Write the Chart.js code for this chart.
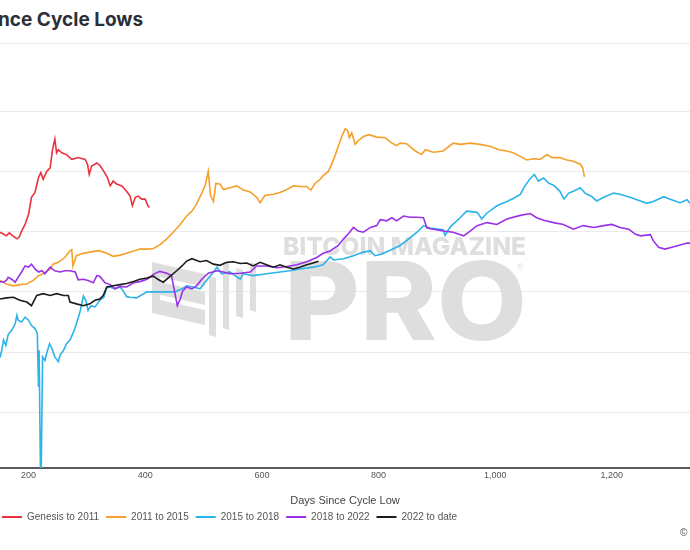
<!DOCTYPE html>
<html><head><meta charset="utf-8">
<script src="https://cdn.jsdelivr.net/npm/chart.js@4.4.1/dist/chart.umd.min.js"></script>
<style>
html,body{margin:0;padding:0;background:#fff;overflow:hidden;width:690px;height:550px;position:relative}
#title{position:absolute;left:-2px;top:9px;font:700 19px Inter,"Noto Sans",sans-serif;line-height:22px;color:#2b2f38;white-space:nowrap}
#sep{position:absolute;left:0;top:43px;width:690px;height:1px;background:#ececec}
#cv{position:absolute;left:-5px;top:0;width:695px;height:550px}
#copy{position:absolute;left:680px;top:527px;font:10px "Liberation Sans",Arial,sans-serif;color:#555}
</style></head><body>
<div id="title">nce Cycle Lows</div>
<div id="sep"></div>
<canvas id="cv" width="695" height="550"></canvas>
<div id="copy">©</div>
<script>
// y values: log10 return units, one gridline per unit
const seriesNames = ['Genesis to 2011', '2011 to 2015', '2015 to 2018', '2018 to 2022', '2022 to date'];
const seriesColors = ['#e8323c', '#f5a02b', '#2cb3e8', '#9a31e8', '#1c1c1c'];
const xTickValues = [200, 400, 600, 800, 1000, 1200];
const yGridValues = [-2, -1, 0, 1, 2, 3];

const genesisDays = [151,157,162,167,173,180,184,188,194,200,205,211,217,221,225,231,237,241,245,248,251,257,265,274,285,297,301,304,308,317,323,329,335,340,345,351,360,368,374,378,383,388,394,400,404,407];
const genesisValues = [0.99,0.96,0.93,0.98,0.93,0.88,0.91,1.01,1.12,1.29,1.57,1.65,1.90,1.98,1.87,2.00,2.06,2.36,2.54,2.31,2.36,2.31,2.28,2.20,2.23,2.20,2.12,1.95,2.09,2.14,2.09,2.00,1.90,1.76,1.84,1.79,1.76,1.67,1.59,1.43,1.57,1.59,1.54,1.54,1.44,1.40];

const c2015Days = [151,162,174,185,197,208,217,225,237,242,251,262,271,274,276,282,294,305,317,322,334,345,357,368,380,391,403,414,425,437,448,460,471,480,487,497,503,508,512,517,521,528,534,545,557,568,580,591,597,605,620,631,643,654,665,677,684,691,700,705,714,720,725,731,737,743,747,750,754,760,765,774,783,797,811,823,831,837,848,863,874,880,894,911,928,940,957,974,991,1006,1020,1031,1043,1054,1066,1077,1089,1097,1111,1123,1134,1146,1150,1153];
const c2015Values = [0.19,0.13,0.10,0.12,0.13,0.19,0.27,0.30,0.38,0.46,0.49,0.57,0.68,0.70,0.43,0.60,0.64,0.66,0.68,0.68,0.64,0.59,0.61,0.64,0.68,0.71,0.71,0.72,0.78,0.88,0.99,1.12,1.26,1.34,1.44,1.64,1.77,2.00,1.60,1.50,1.80,1.79,1.70,1.73,1.76,1.69,1.66,1.57,1.48,1.60,1.62,1.65,1.70,1.76,1.75,1.75,1.69,1.80,1.87,1.93,2.00,2.13,2.25,2.42,2.58,2.71,2.68,2.56,2.64,2.45,2.51,2.58,2.61,2.57,2.56,2.47,2.43,2.47,2.46,2.34,2.28,2.36,2.32,2.34,2.47,2.45,2.47,2.45,2.42,2.36,2.34,2.31,2.25,2.19,2.21,2.20,2.28,2.23,2.23,2.19,2.17,2.12,2.06,1.91];

const c2018Days = [151,154,157,161,165,171,177,180,182,188,194,200,205,211,215,217,218,221,224,228,231,236,240,245,251,254,260,265,271,277,282,288,294,298,302,307,314,322,329,334,340,348,357,362,368,374,385,403,420,437,451,463,471,482,494,505,517,523,531,545,563,568,585,608,631,648,665,688,705,717,723,740,757,774,786,794,803,820,837,848,866,877,888,911,914,923,940,951,969,977,986,1003,1020,1031,1043,1051,1060,1067,1074,1083,1091,1100,1111,1118,1126,1134,1146,1154,1166,1174,1186,1203,1214,1231,1249,1260,1271,1289,1300,1317,1329,1334];
const c2018Values = [-1.09,-0.97,-0.80,-0.89,-0.71,-0.64,-0.53,-0.39,-0.47,-0.50,-0.42,-0.47,-0.56,-0.61,-0.69,-1.58,-0.97,-3.5,-1.08,-1.14,-1.02,-0.86,-0.94,-1.08,-1.16,-1.05,-0.97,-0.86,-0.80,-0.67,-0.53,-0.34,-0.07,-0.14,-0.31,-0.23,-0.25,-0.14,-0.09,0.07,0.08,0.05,0.08,0.02,-0.08,-0.09,-0.10,0.00,0.00,0.00,0.00,0.05,0.10,0.08,0.05,0.19,0.33,0.41,0.30,0.33,0.21,0.30,0.27,0.30,0.33,0.35,0.38,0.41,0.45,0.58,0.53,0.55,0.60,0.66,0.68,0.60,0.62,0.69,0.77,0.85,0.99,1.10,1.06,1.03,0.94,1.08,1.23,1.34,1.32,1.21,1.31,1.43,1.50,1.55,1.62,1.76,1.88,1.95,1.84,1.89,1.81,1.77,1.67,1.54,1.64,1.67,1.73,1.64,1.58,1.51,1.57,1.64,1.62,1.57,1.51,1.47,1.50,1.58,1.54,1.48,1.53,1.47];

const c2022Days = [151,157,162,165,171,177,182,188,194,200,205,211,217,223,228,237,245,254,262,271,280,285,294,302,311,317,322,331,340,348,357,368,380,391,403,414,425,437,445,451,455,460,464,471,480,488,497,508,523,534,545,563,580,591,608,626,643,660,677,694,705,717,731,740,748,757,765,774,786,797,803,814,823,831,843,854,866,877,883,894,911,928,946,957,969,986,1003,1020,1043,1060,1071,1083,1100,1117,1134,1151,1169,1186,1200,1214,1229,1240,1249,1266,1271,1280,1291,1303,1314,1329,1334];
const c2022Values = [0.17,0.16,0.19,0.24,0.21,0.16,0.24,0.33,0.43,0.41,0.46,0.38,0.33,0.35,0.30,0.41,0.35,0.33,0.35,0.35,0.33,0.20,0.21,0.19,0.15,0.27,0.26,0.15,0.12,0.05,0.09,0.08,0.15,0.17,0.21,0.29,0.34,0.31,0.27,-0.03,-0.23,-0.12,0.01,0.08,0.05,0.10,0.21,0.31,0.35,0.33,0.30,0.31,0.33,0.43,0.43,0.40,0.42,0.45,0.50,0.57,0.64,0.68,0.77,0.88,0.96,1.07,1.01,0.99,1.07,1.10,1.20,1.18,1.23,1.18,1.26,1.24,1.24,1.23,1.06,1.04,1.01,0.99,0.93,1.01,1.10,1.15,1.12,1.21,1.27,1.30,1.23,1.19,1.15,1.12,1.04,1.10,1.07,1.10,1.12,1.07,1.04,0.96,0.93,0.95,0.85,0.74,0.71,0.74,0.77,0.81,0.81];

const toDateDays = [151,162,174,185,197,205,214,225,237,248,260,268,271,282,294,305,314,322,328,334,345,357,368,380,391,403,414,423,431,443,454,463,471,480,494,505,517,528,540,551,563,574,585,597,608,620,631,643,654,665,677,688,697];
const toDateValues = [-0.12,-0.10,-0.09,-0.14,-0.17,-0.23,-0.06,-0.03,-0.06,-0.03,-0.06,-0.06,-0.17,-0.20,-0.23,-0.20,-0.14,-0.12,-0.06,0.08,0.10,0.12,0.14,0.17,0.21,0.23,0.26,0.20,0.16,0.26,0.35,0.43,0.51,0.55,0.50,0.52,0.46,0.44,0.49,0.50,0.47,0.48,0.43,0.49,0.45,0.41,0.45,0.41,0.38,0.41,0.45,0.48,0.51];

const seriesDays = [genesisDays, c2015Days, c2018Days, c2022Days, toDateDays];
const seriesValues = [genesisValues, c2015Values, c2018Values, c2022Values, toDateValues];

const FONT = '"Liberation Sans", Arial, sans-serif';

const watermark = {
  id: 'watermark',
  beforeDatasetsDraw(chart) {
    const ctx = chart.ctx;
    const L = chart.chartArea.left; // page x 0
    ctx.save();
    ctx.fillStyle = '#dedede';
    function fit(text, x, base, width, cap, weight) {
      const size = cap / 0.727;
      ctx.font = weight + ' ' + size + 'px Inter, "Liberation Sans", sans-serif';
      const w = ctx.measureText(text).width;
      ctx.save();
      ctx.translate(L + x, base);
      ctx.scale(width / w, 1);
      ctx.textBaseline = 'alphabetic';
      ctx.fillText(text, 0, 0);
      ctx.restore();
    }
    fit('BITCOIN MAGAZINE', 283, 255, 243, 18, 800);
    fit('PRO', 284, 340, 243, 79, 800);
    ctx.font = '9px ' + FONT;
    ctx.fillText('®', L + 517, 268);
    const poly = pts => { ctx.beginPath(); pts.forEach((p, i) => i ? ctx.lineTo(L + p[0], p[1]) : ctx.moveTo(L + p[0], p[1])); ctx.closePath(); ctx.fill(); };
    poly([[152,262],[205,274],[205,287],[160,277],[160,282],[205,292],[205,305],[160,295],[160,300],[205,310],[205,325],[152,313]]);
    poly([[209,276],[216,278],[216,337],[209,335]]);
    poly([[223,262],[229,264],[229,330],[223,328]]);
    poly([[236,268],[243,270],[243,318],[236,316]]);
    poly([[250,262],[256,264],[256,312],[250,310]]);
    ctx.restore();
  }
};

const datasets = seriesNames.map((name, i) => ({
  label: name,
  data: seriesDays[i].map((d, j) => ({ x: d, y: seriesValues[i][j] })),
  borderColor: seriesColors[i],
  backgroundColor: seriesColors[i],
  borderWidth: 1.6,
  pointRadius: 0,
  tension: 0,
  order: seriesNames.length - i
}));

new Chart(document.getElementById('cv'), {
  type: 'line',
  data: { datasets },
  plugins: [watermark],
  options: {
    responsive: false,
    animation: false,
    layout: { padding: { top: 55, left: 0, right: 0, bottom: 18 } },
    scales: {
      x: {
        type: 'linear', min: 151, max: 1334,
        afterBuildTicks(axis) { axis.ticks = xTickValues.map(v => ({ value: v })); },
        ticks: { color: '#555', font: { family: FONT, size: 9 }, padding: 2, maxRotation: 0, autoSkip: false },
        grid: { drawOnChartArea: false, drawTicks: false },
        border: { display: true, color: '#5a5a5a', width: 2 },
        title: { display: true, text: 'Days Since Cycle Low', color: '#444', font: { family: FONT, size: 11 }, padding: { top: 12, bottom: -3 } }
      },
      y: {
        type: 'linear', min: -2.926, max: 3.934,
        afterBuildTicks(axis) { axis.ticks = yGridValues.map(v => ({ value: v })); },
        ticks: { display: false },
        grid: { color: '#ebebeb', lineWidth: 1, drawTicks: false },
        border: { display: false },
        afterFit(s) { s.width = 5; }
      }
    },
    plugins: {
      tooltip: { enabled: false },
      legend: {
        position: 'bottom', align: 'start',
        labels: {
          boxWidth: 20, boxHeight: 2, padding: 7, color: '#555',
          font: { family: FONT, size: 10 },
          sort: (a, b) => a.datasetIndex - b.datasetIndex,
          generateLabels(chart) {
            const items = Chart.defaults.plugins.legend.labels.generateLabels(chart);
            items.forEach(it => { it.lineWidth = 0; it.fillStyle = it.strokeStyle; });
            return items;
          }
        }
      }
    }
  }
});
</script></body></html>
